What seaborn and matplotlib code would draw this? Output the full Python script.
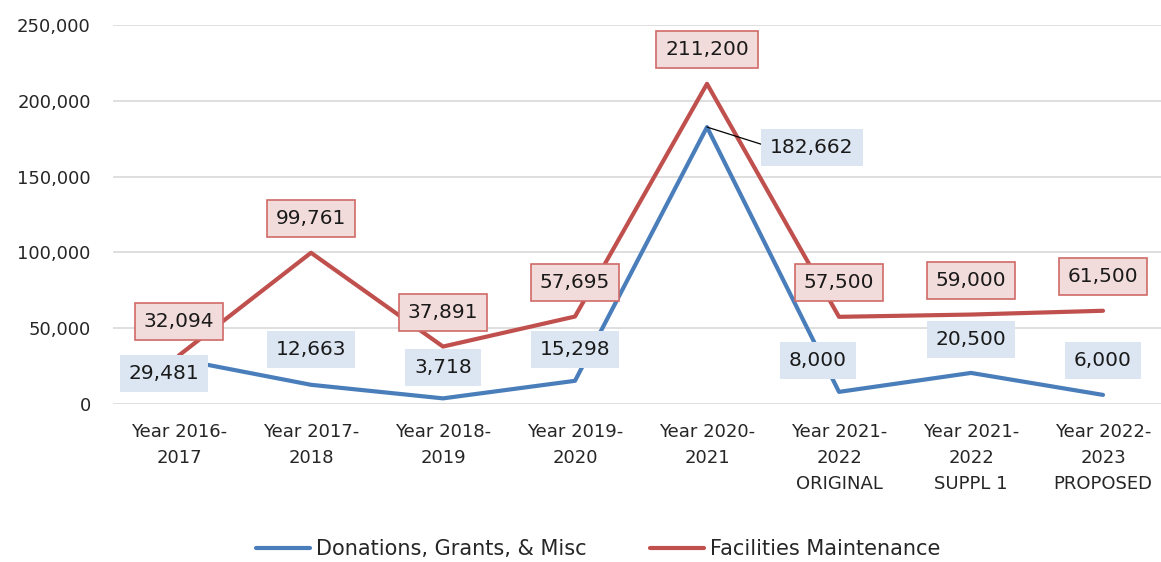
import numpy as np
import pandas as pd
import seaborn as sns
import matplotlib.pyplot as plt
from matplotlib.ticker import FuncFormatter

sns.set_style("white")
plt.rcParams['font.family'] = ['DejaVu Sans']

categories = ["Year 2016-\n2017", "Year 2017-\n2018", "Year 2018-\n2019",
              "Year 2019-\n2020", "Year 2020-\n2021", "Year 2021-\n2022\nORIGINAL",
              "Year 2021-\n2022\nSUPPL 1", "Year 2022-\n2023\nPROPOSED"]
donations = [29481, 12663, 3718, 15298, 182662, 8000, 20500, 6000]
facilities = [32094, 99761, 37891, 57695, 211200, 57500, 59000, 61500]
series_names = ["Donations, Grants, & Misc", "Facilities Maintenance"]

BLUE = "#4A7EBB"
RED = "#C0504D"

# label offsets in pixels (dx, dy up)
blue_off = [(-15, -14), (0, 35), (0, 31), (0, 31), (105, -20), (-21, 31), (0, 33), (0, 34)]
red_off = [(0, 34)] * 8

df = pd.DataFrame({
    "x": list(range(len(categories))) * 2,
    "value": donations + facilities,
    "series": [series_names[0]] * len(donations) + [series_names[1]] * len(facilities),
})

fig = plt.figure(figsize=(11.61, 5.62), dpi=100)
ax = fig.add_axes([113 / 1161, 1 - 404 / 562, 1 - 113 / 1161, (404 - 25) / 562])

sns.lineplot(data=df, x="x", y="value", hue="series", palette=[BLUE, RED],
             linewidth=3.0, ax=ax, legend=True)

ax.set_xlim(-0.5, (1161 - 113) / 132 - 0.5)
ax.set_ylim(0, 250000)
ax.set_yticks(np.arange(0, 250001, 50000))
ax.yaxis.set_major_formatter(FuncFormatter(lambda v, p: f"{int(v):,}"))
ax.set_xticks(range(len(categories)))
ax.set_xticklabels(categories, linespacing=1.55)
ax.tick_params(axis='x', length=0, pad=14, labelsize=13, labelcolor="#262626")
ax.tick_params(axis='y', length=0, pad=16, labelsize=13, labelcolor="#262626")
ax.grid(axis='y', color="#d9d9d9", linewidth=1.2)
ax.set_axisbelow(True)
for s in ax.spines.values():
    s.set_visible(False)
ax.set_xlabel("")
ax.set_ylabel("")

for i, v in enumerate(facilities):
    dx, dy = red_off[i]
    ax.annotate(f"{v:,}", (i, v), xytext=(dx, dy), textcoords="offset pixels",
                ha="center", va="center", fontsize=14.5, color="#1a1a1a",
                bbox=dict(boxstyle="square,pad=0.45", fc="#F2DCDB", ec="#D06A68", lw=1.2))

for i, v in enumerate(donations):
    dx, dy = blue_off[i]
    arrow = None
    if i == 4:
        arrow = dict(arrowstyle="-", color="black", lw=0.9, shrinkA=0, shrinkB=0,
                     relpos=(0, 0.5))
    ax.annotate(f"{v:,}", (i, v), xytext=(dx, dy), textcoords="offset pixels",
                ha="center", va="center", fontsize=14.5, color="#1a1a1a",
                bbox=dict(boxstyle="square,pad=0.45", fc="#DCE6F2", ec="none"),
                arrowprops=arrow)

leg = ax.legend(loc="center", bbox_to_anchor=(0.463, -0.383), ncol=2, frameon=False,
                fontsize=15, handlelength=2.6, handletextpad=0.3, columnspacing=3.0)
for line in leg.get_lines():
    line.set_linewidth(3.0)

fig.savefig("out.png", dpi=100)
